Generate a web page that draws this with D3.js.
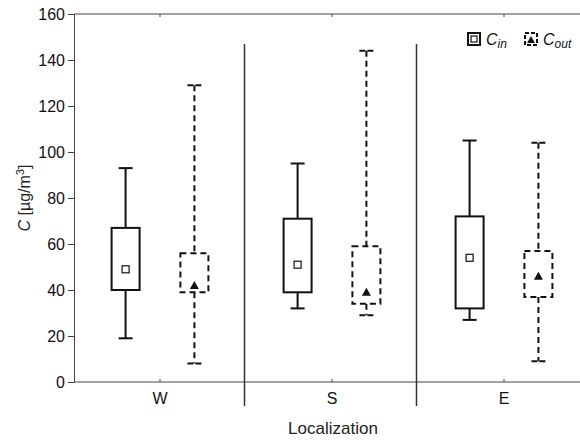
<!DOCTYPE html>
<html lang="en">
<head>
  <meta charset="UTF-8" />
  <title>C by localization</title>
  <script src="https://cdn.jsdelivr.net/npm/d3@7"></script>
  <style>
    html, body { margin: 0; padding: 0; background: #fff; overflow: hidden; }
    svg { display: block; font-family: "Liberation Sans", Arial, sans-serif; }
  </style>
</head>
<body>
  <script>
    // values
    const categories = ["W", "S", "E"];
    const cinMin  = [19, 32, 27];
    const cinQ1   = [40, 39, 32];
    const cinMid  = [49, 51, 54];
    const cinQ3   = [67, 71, 72];
    const cinMax  = [93, 95, 105];
    const coutMin = [8, 29, 9];
    const coutQ1  = [39, 34, 37];
    const coutMid = [42, 39, 46];
    const coutQ3  = [56, 59, 57];
    const coutMax = [129, 144, 104];
    const yTicks  = [0, 20, 40, 60, 80, 100, 120, 140, 160];

    const width = 580, height = 440;
    const plotLeft = 74, plotTop = 14, plotBottom = 382, plotRight = 590;

    const svg = d3.select("body").append("svg")
      .attr("width", width)
      .attr("height", height);

    const x = d3.scaleLinear().domain([0.5, categories.length + 0.5]).range([plotLeft, plotRight]);
    const y = d3.scaleLinear().domain([0, 160]).range([plotBottom, plotTop]);

    const axisColor = "#444";

    // y axis
    const yAxis = svg.append("g")
      .attr("transform", `translate(${plotLeft},0)`)
      .call(d3.axisLeft(y).tickValues(yTicks).tickSize(6).tickPadding(3));
    yAxis.select(".domain").attr("stroke", axisColor);
    yAxis.selectAll(".tick line").attr("stroke", axisColor);
    yAxis.selectAll(".tick text").attr("font-size", 16).attr("fill", "#111")
      .attr("font-family", "Liberation Sans, Arial, sans-serif");

    // bottom and top frame lines
    svg.append("line").attr("x1", plotLeft).attr("x2", width).attr("y1", plotBottom).attr("y2", plotBottom)
      .attr("stroke", axisColor);
    svg.append("line").attr("x1", plotLeft).attr("x2", width).attr("y1", plotTop).attr("y2", plotTop)
      .attr("stroke", axisColor);

    // small inward category ticks + labels
    categories.forEach((c, i) => {
      const cx = x(i + 1);
      svg.append("line").attr("x1", cx).attr("x2", cx).attr("y1", plotBottom).attr("y2", plotBottom - 3)
        .attr("stroke", axisColor);
      svg.append("line").attr("x1", cx).attr("x2", cx).attr("y1", plotTop).attr("y2", plotTop + 3)
        .attr("stroke", axisColor);
      svg.append("text").attr("x", cx).attr("y", 404)
        .attr("text-anchor", "middle").attr("font-size", 16).attr("fill", "#111")
        .text(c);
    });

    // group dividers
    d3.range(1, categories.length).forEach(i => {
      const dx = x(i + 0.5) - 1.5;
      svg.append("line").attr("x1", dx).attr("x2", dx).attr("y1", 44).attr("y2", 406)
        .attr("stroke", "#333").attr("stroke-width", 1.5);
    });

    // box plots
    const boxW = 28, capW = 14;
    function drawBox(g, cx, lo, q1, mid, q3, hi, dashed, marker) {
      const dash = dashed ? "6,4" : null;
      const line = (x1, y1, x2, y2, d) => g.append("line")
        .attr("x1", x1).attr("y1", y1).attr("x2", x2).attr("y2", y2)
        .attr("stroke", "#111").attr("stroke-width", 2)
        .attr("stroke-dasharray", d);
      // whiskers
      line(cx, y(hi), cx, y(q3), dash);
      line(cx, y(q1), cx, y(lo), dash);
      line(cx - capW / 2, y(hi), cx + capW / 2, y(hi), dashed ? "6,2,6" : null);
      line(cx - capW / 2, y(lo), cx + capW / 2, y(lo), dashed ? "6,2,6" : null);
      // box
      g.append("rect")
        .attr("x", cx - boxW / 2).attr("y", y(q3))
        .attr("width", boxW).attr("height", y(q1) - y(q3))
        .attr("fill", "#fff").attr("stroke", "#111").attr("stroke-width", 2)
        .attr("stroke-dasharray", dash);
      // marker
      if (marker === "square") {
        g.append("rect").attr("x", cx - 3.5).attr("y", y(mid) - 3.5)
          .attr("width", 7).attr("height", 7)
          .attr("fill", "#fff").attr("stroke", "#111").attr("stroke-width", 1.2);
      } else {
        g.append("path")
          .attr("transform", `translate(${cx},${y(mid)})`)
          .attr("d", "M0,-4.5L4.5,3.5L-4.5,3.5Z")
          .attr("fill", "#111");
      }
    }

    const boxes = svg.append("g");
    categories.forEach((c, i) => {
      drawBox(boxes, x(i + 1 - 0.2), cinMin[i], cinQ1[i], cinMid[i], cinQ3[i], cinMax[i], false, "square");
      drawBox(boxes, x(i + 1 + 0.2), coutMin[i], coutQ1[i], coutMid[i], coutQ3[i], coutMax[i], true, "triangle");
    });

    // legend
    const lg = svg.append("g");
    lg.append("rect").attr("x", 468).attr("y", 33).attr("width", 12).attr("height", 12)
      .attr("fill", "#fff").attr("stroke", "#111").attr("stroke-width", 2);
    lg.append("rect").attr("x", 471).attr("y", 36).attr("width", 6).attr("height", 6)
      .attr("fill", "#fff").attr("stroke", "#111").attr("stroke-width", 1.2);
    const t1 = lg.append("text").attr("x", 486).attr("y", 45).attr("font-size", 16)
      .attr("font-style", "italic").attr("fill", "#111");
    t1.append("tspan").text("C");
    t1.append("tspan").attr("font-size", 12).attr("dy", 3).text("in");

    lg.append("rect").attr("x", 525).attr("y", 33).attr("width", 12).attr("height", 12)
      .attr("fill", "#fff").attr("stroke", "#111").attr("stroke-width", 2)
      .attr("stroke-dasharray", "4,2");
    lg.append("path").attr("transform", "translate(531,40)")
      .attr("d", "M0,-4L4,3L-4,3Z").attr("fill", "#111");
    const t2 = lg.append("text").attr("x", 543).attr("y", 45).attr("font-size", 16)
      .attr("font-style", "italic").attr("fill", "#111");
    t2.append("tspan").text("C");
    t2.append("tspan").attr("font-size", 12).attr("dy", 3).text("out");

    // axis titles
    svg.append("text").attr("x", (plotLeft + 580) / 2 + 6).attr("y", 434)
      .attr("text-anchor", "middle").attr("font-size", 17).attr("fill", "#222")
      .text("Localization");

    const yl = svg.append("text")
      .attr("transform", `translate(30,${(plotTop + plotBottom) / 2}) rotate(-90)`)
      .attr("text-anchor", "middle").attr("font-size", 16).attr("fill", "#222");
    yl.append("tspan").attr("font-style", "italic").text("C");
    yl.append("tspan").text(" [µg/m");
    yl.append("tspan").attr("font-size", 11).attr("dy", -6).text("3");
    yl.append("tspan").attr("dy", 6).text("]");
  </script>
</body>
</html>
